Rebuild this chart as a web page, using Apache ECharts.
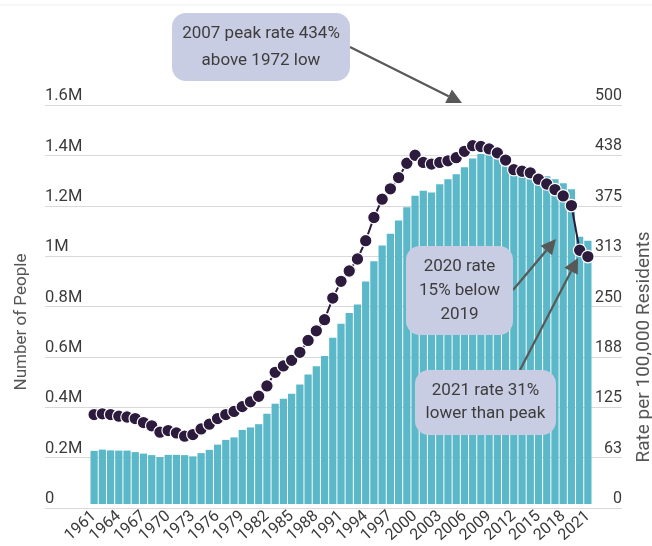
<!DOCTYPE html>
<html lang="en">
<head>
  <meta charset="UTF-8">
  <title>People and rate per 100,000 residents, 1961-2021</title>
  <script src="https://cdn.jsdelivr.net/npm/echarts@6/dist/echarts.min.js"></script>
  <style>
    html, body { margin: 0; padding: 0; background: #fff; }
    #chart { width: 652px; height: 546px; }
  </style>
</head>
<body>
  <div id="chart"></div>
<script>
  // years on the x axis
  const years = ['1961','1962','1963','1964','1965','1966','1967','1968','1969','1970',
    '1971','1972','1973','1974','1975','1976','1977','1978','1979','1980',
    '1981','1982','1983','1984','1985','1986','1987','1988','1989','1990',
    '1991','1992','1993','1994','1995','1996','1997','1998','1999','2000',
    '2001','2002','2003','2004','2005','2006','2007','2008','2009','2010',
    '2011','2012','2013','2014','2015','2016','2017','2018','2019','2020','2021'];

  // number of people (bars, left axis)
  const people = [213000, 218000, 215000, 214000, 214000, 208000, 202000, 196000, 188000, 197000,
    197000, 196000, 191000, 204000, 217000, 238000, 257000, 267000, 297000, 307000,
    320000, 362000, 402000, 422000, 442000, 479000, 519000, 552000, 593000, 667000,
    723000, 766000, 800000, 892000, 973000, 1037000, 1084000, 1137000, 1190000, 1236000,
    1256000, 1249000, 1282000, 1302000, 1322000, 1350000, 1385000, 1403000, 1401000, 1389000,
    1369000, 1350000, 1342000, 1334000, 1322000, 1314000, 1302000, 1286000, 1262000, 1072000, 1056000];

  // rate per 100,000 residents (dots, right axis)
  const rate = [112, 113, 112, 110, 109, 107, 102, 98, 90, 92,
    89, 85, 87, 94, 100, 107, 112, 116, 122, 128,
    135, 148, 165, 173, 180, 190, 205, 217, 231, 258,
    279, 292, 307, 330, 359, 382, 395, 409, 427, 437,
    428, 426, 428, 430, 434, 442, 449, 448, 445, 440,
    431, 419, 417, 415, 407, 401, 394, 386, 374, 318, 310];

  // tick labels
  const leftTicks = ['0', '0.2M', '0.4M', '0.6M', '0.8M', '1M', '1.2M', '1.4M', '1.6M'];
  const rightTicks = ['0', '63', '125', '188', '250', '313', '375', '438', '500'];

  const FONT = 'Roboto';
  const BAR = '#5bb8c8';
  const DOT = '#2d1b3e';
  const BOX = '#c9cde3';
  const ARROW = '#585858';

  let chart = echarts.init(document.getElementById('chart'), null, { renderer: 'canvas' });

  // arrow = line + triangle head
  function arrow(x1, y1, x2, y2) {
    let ang = Math.atan2(y2 - y1, x2 - x1);
    let len = 15, hw = 7.5;
    let bx = x2 - len * Math.cos(ang), by = y2 - len * Math.sin(ang);
    let px = -Math.sin(ang) * hw, py = Math.cos(ang) * hw;
    return [
      { type: 'line', z: 100, shape: { x1: x1, y1: y1, x2: bx, y2: by },
        style: { stroke: ARROW, lineWidth: 2.2 } },
      { type: 'polygon', z: 100, shape: { points: [[x2, y2], [bx + px, by + py], [bx - px, by - py]] },
        style: { fill: ARROW } }
    ];
  }

  function note(x, y, w, h, lines, lh) {
    return [
      { type: 'rect', z: 100, shape: { x: x, y: y, width: w, height: h, r: 14 }, style: { fill: BOX } },
      { type: 'text', z: 101, x: x + w / 2, y: y + h / 2,
        style: { text: lines.join('\n'), fill: '#3d3d3d', font: '17px ' + FONT,
          align: 'center', verticalAlign: 'middle', lineHeight: lh } }
    ];
  }

  let graphics = [].concat(
    [{ type: 'line', z: 1, shape: { x1: 0, y1: 5, x2: 652, y2: 5 }, style: { stroke: '#eeeeee', lineWidth: 1 } }],
    arrow(350, 47, 462, 103),
    note(172, 13, 178, 68, ['2007 peak rate 434%', 'above 1972 low'], 27),
    arrow(513, 290, 556, 239),
    note(406, 246, 107, 89, ['2020 rate', '15% below', '2019'], 24),
    arrow(520, 370, 578, 258),
    note(415, 370, 141, 65, ['2021 rate 31%', 'lower than peak'], 23),
    [
      { type: 'text', x: 22, y: 322, rotation: Math.PI / 2,
        style: { text: 'Number of People', fill: '#555', font: '17px ' + FONT, align: 'center', verticalAlign: 'middle' } },
      { type: 'text', x: 644, y: 347, rotation: Math.PI / 2,
        style: { text: 'Rate per 100,000 Residents', fill: '#555', font: '19px ' + FONT, align: 'center', verticalAlign: 'middle' } }
    ]
  );

  let option = {
    animation: false,
    textStyle: { fontFamily: FONT },
    grid: [
      { left: 45, right: 30, top: 105, bottom: 38 },
      { left: 90, right: 60, top: 105, bottom: 38 }
    ],
    xAxis: [
      { type: 'value', gridIndex: 0, show: false, min: 0, max: 1 },
      {
        type: 'category', gridIndex: 1, data: years,
        axisLine: { show: false }, axisTick: { show: false },
        axisLabel: { interval: 2, rotate: 42, margin: 10, fontSize: 16, color: '#3a3a3a', fontFamily: FONT }
      }
    ],
    yAxis: [
      {
        type: 'value', gridIndex: 0, position: 'left', min: 0, max: 1600000, interval: 200000,
        axisLine: { show: false }, axisTick: { show: false },
        splitLine: { lineStyle: { color: '#d9d9d9', width: 1 } },
        axisLabel: {
          inside: true, margin: 0, fontSize: 16.5, color: '#3a3a3a', fontFamily: FONT,
          verticalAlign: 'bottom', lineHeight: 18, padding: [0, 0, 0, 0],
          formatter: function (v, i) { return leftTicks[i]; }
        }
      },
      {
        type: 'value', gridIndex: 0, position: 'right', min: 0, max: 500, interval: 62.5,
        axisLine: { show: false }, axisTick: { show: false }, splitLine: { show: false },
        axisLabel: {
          inside: true, margin: 0, fontSize: 16, color: '#3a3a3a', fontFamily: FONT,
          verticalAlign: 'bottom', lineHeight: 18, padding: [0, 0, 0, 0],
          formatter: function (v, i) { return rightTicks[i]; }
        }
      },
      { type: 'value', gridIndex: 1, min: 0, max: 1600000, show: false, splitLine: { show: false } },
      { type: 'value', gridIndex: 1, min: 0, max: 500, show: false, splitLine: { show: false } }
    ],
    graphic: graphics,
    series: [
      {
        name: 'Number of People', type: 'bar', xAxisIndex: 1, yAxisIndex: 2,
        data: people, barCategoryGap: '12%',
        itemStyle: { color: BAR }, z: 2
      },
      {
        name: 'Rate', type: 'line', xAxisIndex: 1, yAxisIndex: 3,
        data: rate, symbol: 'circle', symbolSize: 12.5, showSymbol: true, showAllSymbol: true,
        lineStyle: { color: DOT, width: 2 },
        itemStyle: { color: DOT, borderColor: '#fff', borderWidth: 1.2 }, z: 5
      }
    ]
  };
  chart.setOption(option);
</script>
</body>
</html>
